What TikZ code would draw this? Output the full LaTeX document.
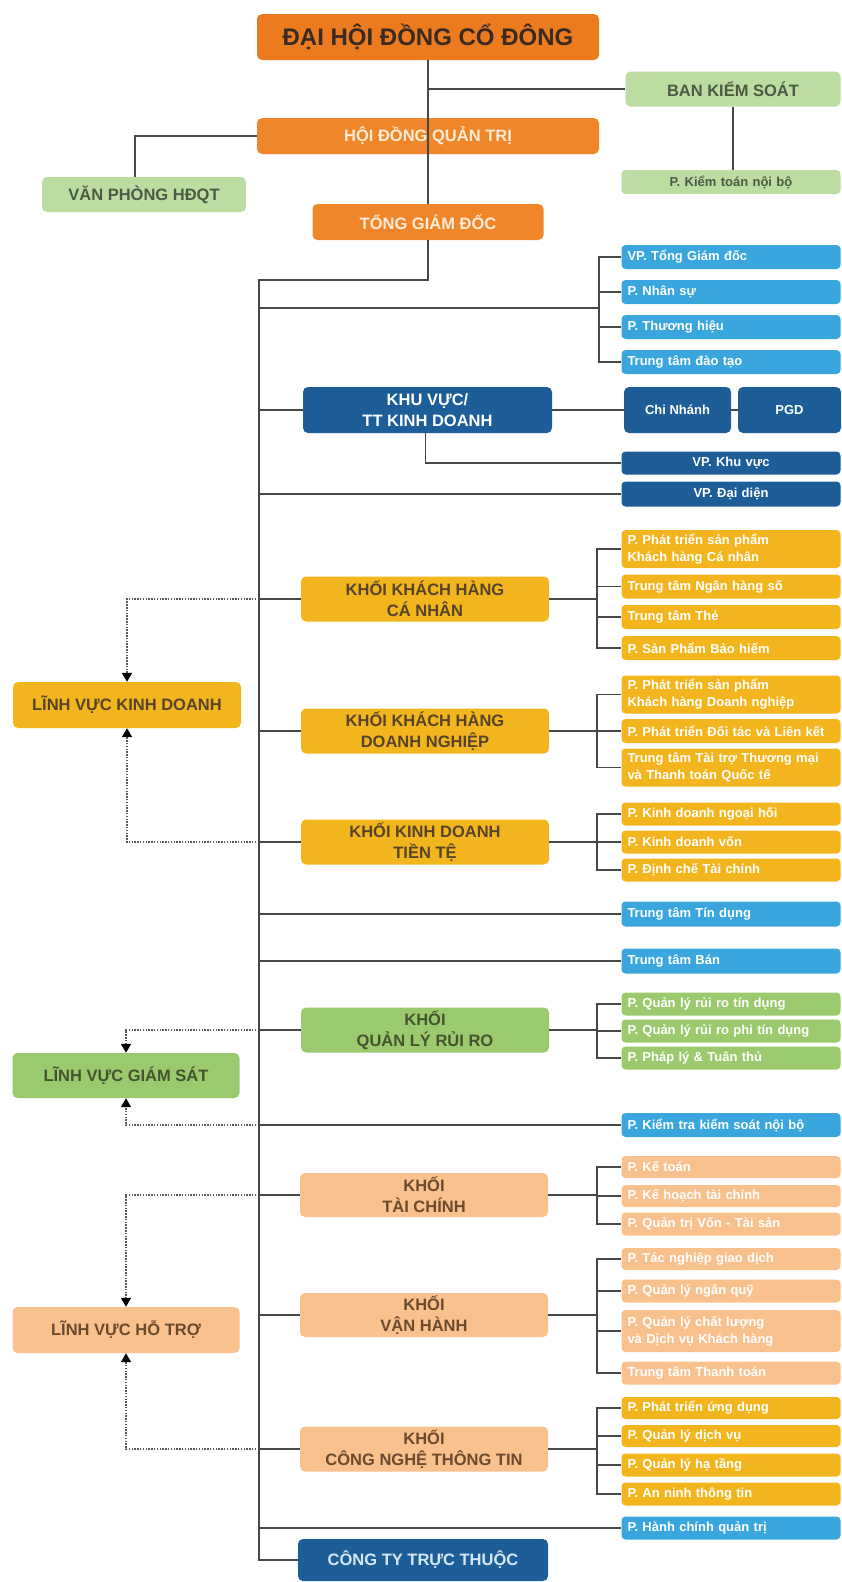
\documentclass[tikz,border=0pt]{standalone}
\usepackage{fontspec}
\setmainfont{Liberation Sans}
\usetikzlibrary{arrows.meta,calc}
\definecolor{orA}{HTML}{EC7B1F}
\definecolor{orB}{HTML}{F0862A}
\definecolor{grP}{HTML}{BCDCA2}
\definecolor{grM}{HTML}{9ACA6D}
\definecolor{blL}{HTML}{3AA6DE}
\definecolor{blD}{HTML}{1D5E98}
\definecolor{yel}{HTML}{F3B51E}
\definecolor{pch}{HTML}{F8C18D}
\definecolor{lineC}{HTML}{474747}
\definecolor{dotC}{HTML}{5A5A5A}
\definecolor{tDark}{HTML}{3A2A22}
\definecolor{tCream}{HTML}{FDEBD6}
\definecolor{tGrn}{HTML}{4C5A44}
\definecolor{tYel}{HTML}{55442A}
\definecolor{tGrD}{HTML}{43542E}
\definecolor{tPch}{HTML}{6B4A2E}
\definecolor{tCty}{HTML}{D6E6F4}
\begin{document}
\begin{tikzpicture}[x=1pt,y=-1pt,
  conn/.style={draw=lineC, line width=1.8pt},
  dotl/.style={draw=dotC, line width=1.6pt, dash pattern=on 1.5pt off 1.3pt, -{Triangle[width=10pt,length=9pt,fill=black,color=black]}},
  big/.style={rounded corners=5pt, inner sep=0pt, align=center, font=\fontsize{16.5}{21}\selectfont\bfseries},
  khoi/.style={big, minimum width=248pt, minimum height=45pt},
  lv/.style={big, minimum width=228pt, minimum height=46pt},
  sub/.style={rounded corners=4pt, inner xsep=6pt, inner ysep=0pt, text width=207pt, align=left, minimum height=24pt, font=\fontsize{13}{17}\selectfont\bfseries},
  subtwo/.style={sub, minimum height=38pt},
]
\useasboundingbox (0,0) rectangle (842,1582);
\fill[white] (0,0) rectangle (842,1582);

% ---- top ----
\node[big, fill=orA, text=tDark, minimum width=342pt, minimum height=46pt, font=\fontsize{24}{28}\selectfont\bfseries] (dhcd) at (428,37) {ĐẠI HỘI ĐỒNG CỔ ĐÔNG};
\node[big, fill=grP, text=tGrn, minimum width=215pt, minimum height=35pt] (bks) at (733,89) {BAN KIỂM SOÁT};
\node[big, fill=orB, text=tCream, minimum width=342pt, minimum height=36pt] (hdqt) at (428,136) {HỘI ĐỒNG QUẢN TRỊ};
\node[big, fill=grP, text=tGrn, minimum width=204pt, minimum height=35pt] (vphd) at (144,194.5) {VĂN PHÒNG HĐQT};
\node[sub, fill=grP, text=tGrn, align=center, minimum height=24pt] (ktnb) at (731,182) {P. Kiểm toán nội bộ};
\node[big, fill=orB, text=tCream, minimum width=231pt, minimum height=36pt] (tgd) at (428,222) {TỔNG GIÁM ĐỐC};

% ---- blue group ----
\node[sub, fill=blL, text=white] (b1) at (731,257) {VP. Tổng Giám đốc};
\node[sub, fill=blL, text=white] (b2) at (731,292) {P. Nhân sự};
\node[sub, fill=blL, text=white] (b3) at (731,327) {P. Thương hiệu};
\node[sub, fill=blL, text=white] (b4) at (731,362) {Trung tâm đào tạo};

\node[big, fill=blD, text=white, minimum width=249pt, minimum height=46pt] (kv) at (427.5,410) {KHU VỰC/\\TT KINH DOANH};
\node[big, fill=blD, text=white, minimum width=107pt, minimum height=46pt, font=\fontsize{13}{16}\selectfont\bfseries] (cn) at (677.5,410) {Chi Nhánh};
\node[big, fill=blD, text=white, minimum width=103pt, minimum height=46pt, font=\fontsize{13}{16}\selectfont\bfseries] (pgd) at (789.5,410) {PGD};
\node[sub, fill=blD, text=white, align=center, minimum height=23pt] (vpkv) at (731,463) {VP. Khu vực};
\node[sub, fill=blD, text=white, align=center, minimum height=25pt] (vpdd) at (731,494) {VP. Đại diện};

% ---- khoi khach hang ca nhan ----
\node[khoi, fill=yel, text=tYel] (kcn) at (425,599) {KHỐI KHÁCH HÀNG\\CÁ NHÂN};
\node[subtwo, fill=yel, text=white] (kcn1) at (731,549) {P. Phát triển sản phẩm\\Khách hàng Cá nhân};
\node[sub, fill=yel, text=white] (kcn2) at (731,586.5) {Trung tâm Ngân hàng số};
\node[sub, fill=yel, text=white] (kcn3) at (731,617) {Trung tâm Thẻ};
\node[sub, fill=yel, text=white] (kcn4) at (731,648) {P. Sản Phẩm Bảo hiểm};

\node[lv, fill=yel, text=tYel] (lvkd) at (127,705) {LĨNH VỰC KINH DOANH};

% ---- khoi khach hang doanh nghiep ----
\node[khoi, fill=yel, text=tYel] (kdn) at (425,731) {KHỐI KHÁCH HÀNG\\DOANH NGHIỆP};
\node[subtwo, fill=yel, text=white] (kdn1) at (731,694.5) {P. Phát triển sản phẩm\\Khách hàng Doanh nghiệp};
\node[sub, fill=yel, text=white] (kdn2) at (731,731) {P. Phát triển Đối tác và Liên kết};
\node[subtwo, fill=yel, text=white] (kdn3) at (731,767.5) {Trung tâm Tài trợ Thương mại\\và Thanh toán Quốc tế};

% ---- khoi kinh doanh tien te ----
\node[khoi, fill=yel, text=tYel] (ktt) at (425,842) {KHỐI KINH DOANH\\TIỀN TỆ};
\node[sub, fill=yel, text=white, minimum height=23pt] (ktt1) at (731,814) {P. Kinh doanh ngoại hối};
\node[sub, fill=yel, text=white, minimum height=23pt] (ktt2) at (731,842) {P. Kinh doanh vốn};
\node[sub, fill=yel, text=white, minimum height=23pt] (ktt3) at (731,870) {P. Định chế Tài chính};

\node[sub, fill=blL, text=white, minimum height=25pt] (tttd) at (731,914) {Trung tâm Tín dụng};
\node[sub, fill=blL, text=white, minimum height=25pt] (ttb) at (731,961) {Trung tâm Bán};

% ---- quan ly rui ro ----
\node[khoi, fill=grM, text=tGrD] (qlrr) at (425,1030) {KHỐI\\QUẢN LÝ RỦI RO};
\node[sub, fill=grM, text=white, minimum height=23pt] (q1) at (731,1004) {P. Quản lý rủi ro tín dụng};
\node[sub, fill=grM, text=white, minimum height=23pt] (q2) at (731,1031) {P. Quản lý rủi ro phi tín dụng};
\node[sub, fill=grM, text=white, minimum height=23pt] (q3) at (731,1058) {P. Pháp lý \& Tuân thủ};
\node[lv, fill=grM, text=tGrD, minimum width=227pt, minimum height=45pt] (lvgs) at (126,1075.5) {LĨNH VỰC GIÁM SÁT};
\node[sub, fill=blL, text=white, minimum height=24pt] (pkt) at (731,1125) {P. Kiểm tra kiểm soát nội bộ};

% ---- tai chinh ----
\node[khoi, fill=pch, text=tPch, minimum height=44pt] (ktc) at (424,1195) {KHỐI\\TÀI CHÍNH};
\node[sub, fill=pch, text=white, minimum height=22pt] (tc1) at (731,1167) {P. Kế toán};
\node[sub, fill=pch, text=white, minimum height=22pt] (tc2) at (731,1196) {P. Kế hoạch tài chính};
\node[sub, fill=pch, text=white, minimum height=23pt] (tc3) at (731,1224) {P. Quản trị Vốn - Tài sản};

% ---- van hanh ----
\node[khoi, fill=pch, text=tPch, minimum height=44pt] (kvh) at (424,1315) {KHỐI\\VẬN HÀNH};
\node[sub, fill=pch, text=white, minimum height=22pt] (vh1) at (731,1259) {P. Tác nghiệp giao dịch};
\node[sub, fill=pch, text=white, minimum height=23pt] (vh2) at (731,1291) {P. Quản lý ngân quỹ};
\node[sub, fill=pch, text=white, minimum height=42pt] (vh3) at (731,1331) {P. Quản lý chất lượng\\và Dịch vụ Khách hàng};
\node[sub, fill=pch, text=white, minimum height=23pt] (vh4) at (731,1373) {Trung tâm Thanh toán};
\node[lv, fill=pch, text=tPch, minimum width=227pt, minimum height=46pt] (lvht) at (126,1330) {LĨNH VỰC HỖ TRỢ};

% ---- cntt ----
\node[khoi, fill=pch, text=tPch] (kcntt) at (424,1449) {KHỐI\\CÔNG NGHỆ THÔNG TIN};
\node[sub, fill=yel, text=white, minimum height=22pt] (it1) at (731,1408) {P. Phát triển ứng dụng};
\node[sub, fill=yel, text=white, minimum height=22pt] (it2) at (731,1436) {P. Quản lý dịch vụ};
\node[sub, fill=yel, text=white, minimum height=23pt] (it3) at (731,1465) {P. Quản lý hạ tầng};
\node[sub, fill=yel, text=white, minimum height=23pt] (it4) at (731,1494) {P. An ninh thông tin};
\node[sub, fill=blL, text=white, minimum height=23pt] (phc) at (731,1528) {P. Hành chính quản trị};
\node[big, fill=blD, text=tCty, minimum width=250pt, minimum height=42pt] (cty) at (423,1560) {CÔNG TY TRỰC THUỘC};

% ---- coordinates ----
\coordinate (ttop) at (259,280);
\coordinate (bx) at (599,308);
\coordinate (br) at (597,0);

% ---- dotted arrows ----
\draw[dotl] (kcn.west -| ttop) -| (lvkd.north);
\draw[dotl] (ktt.west -| ttop) -| (lvkd.south);
\draw[dotl] (qlrr.west -| ttop) -| (lvgs.north);
\draw[dotl] (pkt.west -| ttop) -| (lvgs.south);
\draw[dotl] (ktc.west -| ttop) -| (lvht.north);
\draw[dotl] (kcntt.west -| ttop) -| (lvht.south);

% ---- top connectors ----
\draw[conn] (dhcd.south) -- (tgd.north);
\draw[conn] (bks.west -| dhcd.south) -- (bks.west);
\draw[conn] (hdqt.west) -| ([xshift=-9pt]vphd.north);
\draw[conn] (bks.south) -- (bks.south |- ktnb.north);
\draw[conn] (tgd.south) |- (ttop) |- (cty.west);

% blue group
\draw[conn] (bx -| ttop) -- (bx);
\draw[conn] (b1.west) -| (b4.west -| bx) -- (b4.west);
\draw[conn] (b2.west) -- (b2.west -| bx);
\draw[conn] (b3.west) -- (b3.west -| bx);

% khu vuc
\draw[conn] (kv.west -| ttop) -- (kv.west);
\draw[conn] (kv.east) -- (cn.west);
\draw[conn] (cn.east) -- (pgd.west);
\draw[conn] ([xshift=-2pt]kv.south) |- (vpkv.west);
\draw[conn] (vpdd.west -| ttop) -- (vpdd.west);

% khoi groups
\foreach \k/\f/\l/\mids in {kcn/kcn1/kcn4/{kcn2,kcn3}, kdn/kdn1/kdn3/{kdn2}, ktt/ktt1/ktt3/{ktt2}, qlrr/q1/q3/{q2}, ktc/tc1/tc3/{tc2}, kvh/vh1/vh4/{vh2,vh3}, kcntt/it1/it4/{it2,it3}}{
  \draw[conn] (\k.west -| ttop) -- (\k.west);
  \draw[conn] (\k.east) -- (\k.east -| br);
  \draw[conn] (\f.west) -| (\l.west -| br) -- (\l.west);
  \foreach \m in \mids { \draw[conn] (\m.west) -- (\m.west -| br); }
}

% single lines
\draw[conn] (tttd.west -| ttop) -- (tttd.west);
\draw[conn] (ttb.west -| ttop) -- (ttb.west);
\draw[conn] (pkt.west -| ttop) -- (pkt.west);
\draw[conn] (phc.west -| ttop) -- (phc.west);
\end{tikzpicture}
\end{document}
